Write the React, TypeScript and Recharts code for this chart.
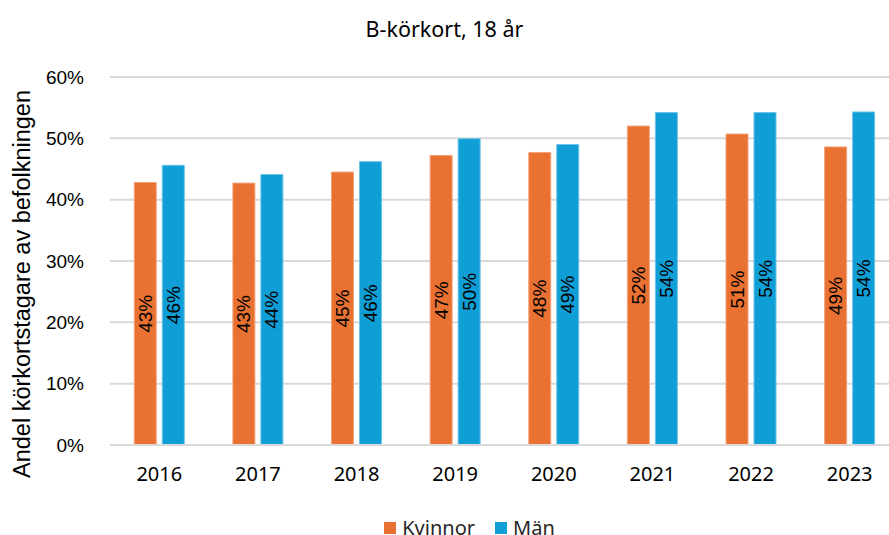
import React from 'react';
import { BarChart, Bar, XAxis, YAxis, CartesianGrid, Legend, LabelList } from 'recharts';

const YEARS = ['2016', '2017', '2018', '2019', '2020', '2021', '2022', '2023'];
const KVINNOR = [42.8, 42.7, 44.5, 47.2, 47.7, 52.0, 50.7, 48.6];
const MAN = [45.6, 44.1, 46.2, 49.95, 49.0, 54.2, 54.2, 54.3];
const Y_TICKS = [0, 10, 20, 30, 40, 50, 60];

const data = YEARS.map((year, i) => ({ year, kvinnor: KVINNOR[i], man: MAN[i] }));

const ORANGE = '#E97132';
const BLUE = '#0F9ED5';
const SANS = '"Noto Sans", "Open Sans", sans-serif';
const ARIAL = '"Liberation Sans", Arial, sans-serif';

const BarLabel = (props: any) => {
  const { x, y, width, height, value } = props;
  const cx = x + width / 2;
  const cy = y + height / 2;
  return (
    <text
      x={cx}
      y={cy}
      transform={`rotate(-90, ${cx}, ${cy})`}
      textAnchor="middle"
      dominantBaseline="central"
      fontFamily={ARIAL}
      fontSize={19}
      fill="#000"
    >
      {Math.round(value)}%
    </text>
  );
};

const YLabel = () => (
  <text
    x={22}
    y={284}
    transform="rotate(-90, 22, 284)"
    textAnchor="middle"
    dominantBaseline="central"
    fontFamily={ARIAL}
    fontSize={23.5}
    fill="#000"
  >
    Andel körkortstagare av befolkningen
  </text>
);

const LegendContent = () => (
  <div style={{ display: 'flex', justifyContent: 'center', gap: 20, fontFamily: SANS, fontSize: 20, color: '#262626', paddingRight: 10 }}>
    {[{ name: 'Kvinnor', color: ORANGE }, { name: 'Män', color: BLUE }].map((it) => (
      <span key={it.name} style={{ display: 'flex', alignItems: 'center' }}>
        <span style={{ width: 12, height: 12, background: it.color, display: 'inline-block', marginRight: 6 }} />
        {it.name}
      </span>
    ))}
  </div>
);

export default function App() {
  return (
    <div style={{ position: 'absolute', left: 0, top: 0, width: 889, height: 535, overflow: 'hidden', background: '#fff' }}>
      <div style={{ position: 'absolute', top: 14, left: 0, width: 889, textAlign: 'center', fontFamily: SANS, fontSize: 21.5, color: '#000' }}>
        B-körkort, 18 år
      </div>
      <BarChart
        width={899}
        height={535}
        data={data}
        margin={{ top: 77, right: 0, left: 50, bottom: 33 }}
        barCategoryGap="24.6%"
        barGap={6}
      >
        <CartesianGrid vertical={false} stroke="#d9d9d9" strokeWidth={2} />
        <XAxis
          dataKey="year"
          tickLine={false}
          axisLine={{ stroke: '#d9d9d9', strokeWidth: 2 }}
          tick={{ fontFamily: SANS, fontSize: 20, fill: '#000' }}
          tickMargin={16}
        />
        <YAxis
          width={60}
          domain={[0, 60]}
          ticks={Y_TICKS}
          tickFormatter={(v: number) => `${v}%`}
          tickLine={false}
          axisLine={false}
          tick={{ fontFamily: ARIAL, fontSize: 19, fill: '#000' }}
          tickMargin={20}
          label={<YLabel />}
        />
        <Legend verticalAlign="bottom" content={<LegendContent />} wrapperStyle={{ bottom: -6 }} />
        <Bar dataKey="kvinnor" name="Kvinnor" fill={ORANGE} stroke="#f4a27a" strokeWidth={1} isAnimationActive={false}>
          <LabelList dataKey="kvinnor" content={<BarLabel />} />
        </Bar>
        <Bar dataKey="man" name="Män" fill={BLUE} stroke="#6cc3e8" strokeWidth={1} isAnimationActive={false}>
          <LabelList dataKey="man" content={<BarLabel />} />
        </Bar>
      </BarChart>
    </div>
  );
}
